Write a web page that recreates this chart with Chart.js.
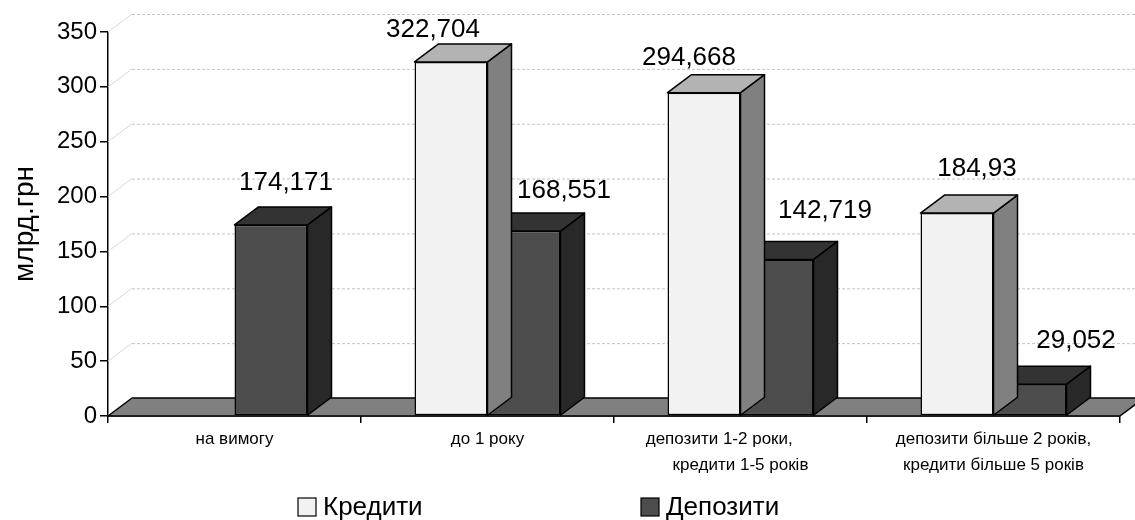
<!DOCTYPE html>
<html><head><meta charset="utf-8">
<script src="https://cdn.jsdelivr.net/npm/chart.js@4.4.1/dist/chart.umd.min.js"></script>
<style>html,body{margin:0;padding:0;background:#fff;} #wrap{width:1135px;height:520px;}</style>
</head><body><div id="wrap"><canvas id="c" width="1135" height="520"></canvas></div>
<script>
// ---- data ----
const categories = [
  ["на вимогу"],
  ["до 1 року"],
  ["депозити 1-2 роки,         ", "кредити 1-5 років"],
  ["депозити більше 2 років,", "кредити більше 5 років"]
];
const seriesNames = ["Кредити", "Депозити"];
const creditValues = [null, 322.704, 294.668, 184.93];
const depositValues = [174.171, 168.551, 142.719, 29.052];
const yMin = 0, yMax = 350, yStep = 50;
const yTitle = "млрд.грн";

// ---- styling ----
const F = "'Liberation Sans', Arial, sans-serif";
const DX = 24, DY = -18;
const shades = [
  {front:'#f2f2f2', top:'#b3b3b3', side:'#808080'},
  {front:'#4d4d4d', top:'#333333', side:'#282828'}
];
// label nudges relative to the front-top centre of each bar [dx, dy]
const labelNudge = [
  [[0,0],[-18,-32],[-15,-35],[20,-44]],
  [[15,-42],[40,-40],[48,-49],[46,-43]]
];
const legendPos = [{x:298, y:507}, {x:641, y:507}];

function poly(ctx, pts, fill){
  ctx.beginPath();
  ctx.moveTo(pts[0][0], pts[0][1]);
  for (let i=1;i<pts.length;i++) ctx.lineTo(pts[i][0], pts[i][1]);
  ctx.closePath();
  ctx.fillStyle = fill; ctx.fill();
  ctx.lineWidth = 1.5; ctx.strokeStyle = '#000'; ctx.lineJoin = 'round';
  ctx.stroke();
}
const fmt = v => String(v).replace('.', ',');

const threeD = {
  id: 'threeD',
  beforeDatasetsDraw(chart){
    const ctx = chart.ctx, a = chart.chartArea, y = chart.scales.y;
    ctx.save();
    y.ticks.forEach(t => {
      if (t.value === 0) return;
      const py = y.getPixelForValue(t.value);
      ctx.setLineDash([]); ctx.strokeStyle = '#d8d8d8'; ctx.lineWidth = 1;
      ctx.beginPath(); ctx.moveTo(a.left, py); ctx.lineTo(a.left+DX, py+DY); ctx.stroke();
      ctx.setLineDash([3,2]); ctx.strokeStyle = '#c4c4c4';
      ctx.beginPath(); ctx.moveTo(a.left+DX, py+DY+0.5); ctx.lineTo(a.right+DX+30, py+DY+0.5); ctx.stroke();
    });
    ctx.setLineDash([]);
    const b = y.getPixelForValue(0);
    poly(ctx, [[a.left,b],[a.right,b],[a.right+DX,b+DY],[a.left+DX,b+DY]], '#808080');
    ctx.restore();
  },
  afterDatasetDraw(chart, args){
    const ctx = chart.ctx, s = shades[args.index];
    const data = chart.data.datasets[args.index].data;
    ctx.save();
    args.meta.data.forEach((bar, i) => {
      if (data[i] == null) return;
      const p = bar.getProps(['x','y','base','width'], true);
      const l = p.x - p.width/2, r = p.x + p.width/2;
      poly(ctx, [[r,p.y],[r+DX,p.y+DY],[r+DX,p.base+DY],[r,p.base]], s.side);
      poly(ctx, [[l,p.y],[l+DX,p.y+DY],[r+DX,p.y+DY],[r,p.y]], s.top);
    });
    ctx.restore();
  },
  afterDatasetsDraw(chart){
    const ctx = chart.ctx;
    ctx.save();
    ctx.fillStyle = '#000';
    ctx.font = '26px ' + F;
    ctx.textAlign = 'center'; ctx.textBaseline = 'middle';
    chart.data.datasets.forEach((ds, di) => {
      const meta = chart.getDatasetMeta(di);
      meta.data.forEach((bar, i) => {
        if (ds.data[i] == null) return;
        const p = bar.getProps(['x','y'], true);
        const n = labelNudge[di][i];
        ctx.fillText(fmt(ds.data[i]), p.x + n[0], p.y + n[1]);
      });
    });
    // legend
    ctx.textAlign = 'left';
    chart.data.datasets.forEach((ds, di) => {
      const lp = legendPos[di];
      ctx.fillStyle = shades[di].front;
      ctx.fillRect(lp.x, lp.y-9, 18, 18);
      ctx.lineWidth = 1.2; ctx.strokeStyle = '#000';
      ctx.strokeRect(lp.x, lp.y-9, 18, 18);
      ctx.fillStyle = '#000';
      ctx.fillText(ds.label, lp.x + 25, lp.y + 1);
    });
    ctx.restore();
  }
};

new Chart(document.getElementById('c'), {
  type: 'bar',
  data: {
    labels: categories,
    datasets: [
      {label: seriesNames[0], data: creditValues, backgroundColor: shades[0].front, borderColor:'#000', borderWidth:1.5, borderSkipped:false},
      {label: seriesNames[1], data: depositValues, backgroundColor: shades[1].front, borderColor:'#000', borderWidth:1.5, borderSkipped:false}
    ]
  },
  options: {
    responsive: false,
    animation: false,
    events: [],
    layout: {padding: {top: 32, right: 15, left: 0, bottom: 0}},
    datasets: {bar: {categoryPercentage: 0.577, barPercentage: 1.0}},
    plugins: {legend: {display:false}, tooltip: {enabled:false}},
    scales: {
      x: {
        ticks: {color:'#000', font:{size:17, family:F, lineHeight:1.5}, padding:4, maxRotation:0, autoSkip:false},
        grid: {display:true, drawOnChartArea:false, drawTicks:true, tickLength:7, color:'#000', lineWidth:1.5, offset:true},
        border: {display:true, color:'#000', width:1.5},
        afterFit(s){ s.height = 104; }
      },
      y: {
        min: yMin, max: yMax,
        ticks: {stepSize: yStep, color:'#000', font:{size:24, family:F}, padding:3},
        grid: {display:true, drawOnChartArea:false, drawTicks:true, tickLength:8, color:'#000', lineWidth:1.5},
        border: {display:true, color:'#000', width:1.5},
        title: {display:true, text:yTitle, color:'#000', font:{size:28, family:F}, padding:{top:8, bottom:0}},
        afterFit(s){ s.width = 108; }
      }
    }
  },
  plugins: [threeD]
});
</script>
</body></html>
